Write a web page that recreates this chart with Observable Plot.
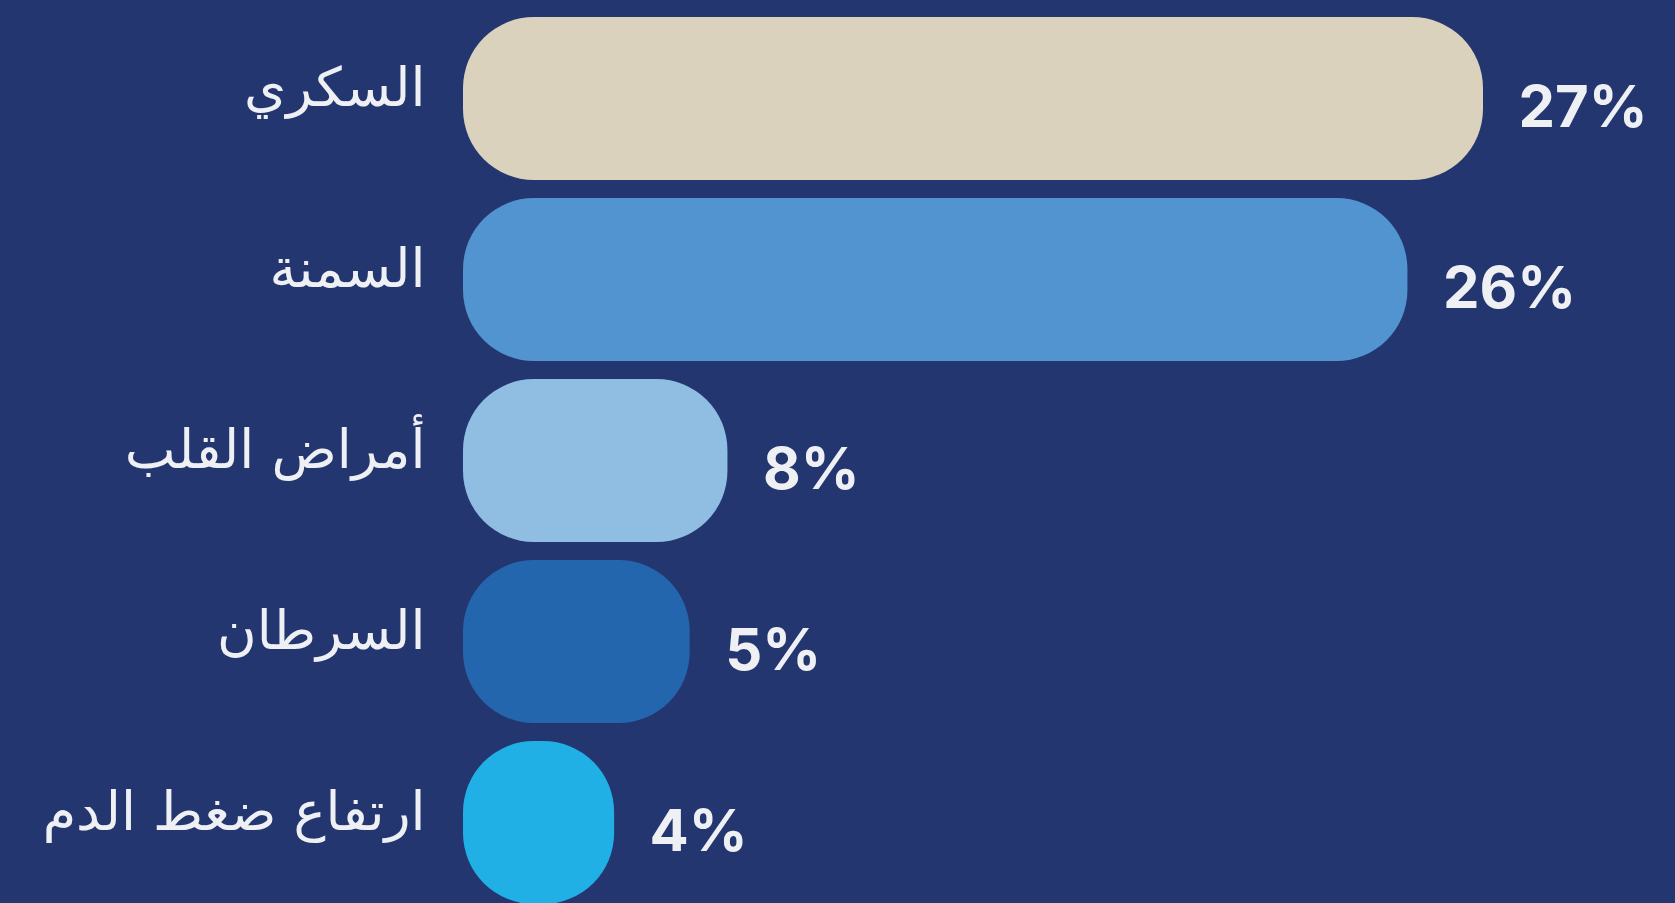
<!DOCTYPE html>
<html>
<head>
<meta charset="utf-8">
<script src="https://cdn.jsdelivr.net/npm/d3@7"></script>
<script src="https://cdn.jsdelivr.net/npm/@observablehq/plot@0.6"></script>
<style>
  html, body { margin: 0; padding: 0; background: #243670; overflow: hidden; }
  #chart svg { display: block; }
</style>
</head>
<body>
<div id="chart"></div>
<script>
// Data
const categories = ["السكري", "السمنة", "أمراض القلب", "السرطان", "ارتفاع ضغط الدم"];
const values = [27, 25, 7, 6, 4];          // bar lengths as drawn
const valueLabels = ["27%", "26%", "8%", "5%", "4%"];   // printed labels
const barColors = ["#dad2bd", "#5294d0", "#90bee3", "#2366ad", "#21b0e6"];

const data = categories.map((name, i) => ({name, value: values[i], label: valueLabels[i]}));

const chart = Plot.plot({
  width: 1675,
  height: 903,
  margin: 0,
  style: {background: "#243670", overflow: "hidden"},
  x: {domain: [0, 27], range: [463, 1483], axis: null},
  y: {type: "band", domain: categories, range: [-2.5, 923.5], padding: 0.102, axis: null},
  color: {domain: categories, range: barColors},
  marks: [
    Plot.barX(data, {x: "value", y: "name", fill: "name", rx: 71}),
    Plot.text(data, {
      x: () => 0, y: "name", text: "name", dx: -38, dy: -10,
      textAnchor: "end", fill: "#eef0f4", fontSize: 54,
      fontFamily: "DejaVu Sans"
    }),
    Plot.text(data, {
      x: "value", y: "name", text: "label", dx: 35, dy: 9,
      textAnchor: "start", fill: "#eef0f4", fontSize: 58, fontWeight: 700,
      fontFamily: "Inter"
    })
  ]
});
document.getElementById("chart").appendChild(chart);
</script>
</body>
</html>
